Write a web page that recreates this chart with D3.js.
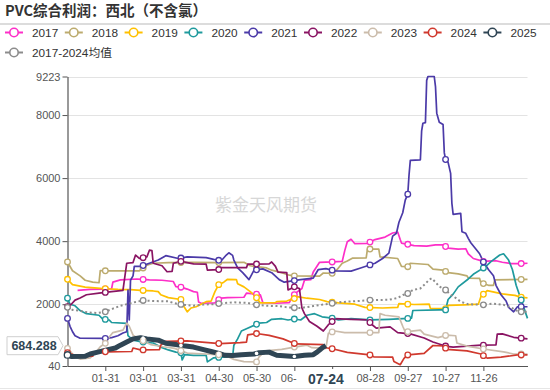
<!DOCTYPE html>
<html><head><meta charset="utf-8">
<script src="https://cdn.jsdelivr.net/npm/d3@7"></script>
<style>body{margin:0;background:#fff;} svg{display:block;}</style>
</head><body>
<svg id="c" width="550" height="390"></svg>
<script>
// ---------- data ----------
const title = "PVC综合利润：西北（不含氯）";
const watermark = "紫金天风期货";
const seriesNames = ["2017","2018","2019","2020","2021","2022","2023","2024","2025","2017-2024均值"];
const yTicks = [40, 2000, 4000, 6000, 8000, 9223];
const yMin = 40, yMax = 9223;
const pointerIndex = 205;          // 07-24
const pointerValue = 684.288;
// categories: every day of a (leap) year, "MM-DD"
const categories = d3.timeDay.range(new Date(2024,0,1), new Date(2025,0,1)).map(d3.timeFormat("%m-%d"));
const xLabelDays = [30,60,90,120,150,180,210,240,270,300,330];
// each series: [day-of-year index, value]
const s2017 = [[8,2440],[18,2470],[28,2480],[35,2490],[36,2700],[42,2770],[55,2800],[65,2770],[75,2760],[84,2720],[86,2560],[90,2540],[95,2480],[100,2400],[103,2380],[104,2070],[106,2030],[117,2040],[119,2120],[122,2190],[127,2210],[140,2220],[142,2350],[150,2320],[153,2300],[155,2050],[165,2030],[176,2050],[178,2200],[181,2350],[186,2500],[188,2760],[193,2780],[195,3020],[200,3330],[210,3340],[218,3360],[220,3700],[222,3980],[225,4060],[228,3920],[238,3930],[244,4050],[252,4130],[258,4260],[262,4290],[264,4050],[265,3940],[270,3900],[275,3860],[285,3840],[292,3880],[298,3880],[302,3780],[310,3750],[316,3760],[318,3600],[322,3450],[330,3360],[340,3380],[345,3330],[352,3290],[360,3290],[365,3300]];
const s2018 = [[0,3340],[4,3060],[10,2900],[14,2760],[20,2700],[25,2680],[26,3070],[30,3060],[57,3060],[60,3150],[63,3240],[68,3300],[80,3320],[100,3330],[120,3320],[140,3330],[145,3220],[150,3190],[158,3150],[162,3080],[170,3000],[176,2920],[180,2900],[200,2890],[203,2990],[210,2980],[214,3100],[218,3300],[222,3370],[226,3460],[237,3470],[238,3750],[247,3750],[248,3500],[262,3450],[265,3200],[270,3190],[272,3300],[286,3260],[290,3110],[298,3080],[302,3000],[310,2960],[317,2900],[318,2830],[327,2820],[328,2680],[334,2600],[338,2600],[339,2770],[365,2790]];
const s2019 = [[0,2790],[4,2620],[14,2540],[24,2510],[30,2490],[40,2470],[50,2460],[58,2440],[68,2420],[72,2400],[74,2300],[80,2210],[90,2150],[92,1950],[95,1760],[98,1880],[102,1920],[106,2000],[110,2080],[114,2100],[117,2400],[120,2620],[124,2700],[127,2790],[134,2780],[135,2650],[140,2550],[145,2400],[149,2260],[153,2040],[165,2050],[166,2080],[174,2100],[176,2130],[180,2180],[182,2240],[190,2190],[200,2150],[206,2080],[215,2040],[228,2000],[236,1900],[250,1880],[262,1900],[263,2020],[275,1990],[287,2000],[288,1860],[300,1860],[302,1960],[315,1980],[326,2000],[328,2240],[333,2430],[345,2330],[355,2280],[360,2220],[365,2200]];
const s2020 = [[0,2190],[2,2000],[6,1950],[10,1800],[15,1700],[25,1650],[28,1530],[33,1500],[35,1420],[47,1390],[48,1000],[52,860],[60,800],[68,770],[74,640],[80,550],[86,480],[90,460],[91,230],[93,400],[100,380],[110,380],[111,170],[116,300],[122,320],[131,330],[132,700],[135,900],[138,1150],[142,1220],[152,1400],[158,1420],[162,1520],[170,1540],[175,1500],[180,1530],[185,1500],[190,1650],[196,1700],[202,1600],[210,1560],[215,1500],[225,1540],[240,1500],[255,1520],[270,1550],[273,1560],[274,1800],[295,1820],[300,1820],[302,2150],[306,2320],[310,2550],[318,2800],[322,2950],[332,3200],[336,3350],[343,3560],[346,3600],[350,3400],[353,3100],[356,2600],[359,2250],[362,1900],[365,1550]];
const s2021 = [[0,1550],[2,1300],[4,1126],[6,1000],[10,920],[30,917],[35,940],[40,1000],[44,1085],[47,1126],[48,2450],[49,1500],[50,2760],[52,2900],[53,3200],[58,3200],[65,3300],[72,3400],[78,3540],[88,3450],[95,3500],[110,3480],[116,3420],[122,3380],[126,3560],[128,3630],[131,3550],[132,3400],[135,3150],[139,3000],[144,2780],[148,3080],[155,3120],[162,3000],[168,2780],[172,2700],[185,2780],[195,2830],[199,3100],[205,3130],[212,3060],[225,3050],[232,3140],[244,3300],[250,3450],[255,3620],[258,4160],[261,4250],[263,4600],[266,4900],[268,5300],[270,5490],[271,6100],[272,6560],[280,6580],[281,7500],[282,7740],[284,7760],[285,9100],[286,9223],[291,9223],[292,8900],[293,8060],[295,7770],[298,7700],[299,6800],[300,6590],[302,6500],[304,6150],[305,5200],[306,4850],[312,4880],[313,4300],[316,4250],[318,4090],[320,3950],[324,3750],[327,3600],[330,3340],[334,3100],[338,2900],[340,2600],[344,2300],[348,2100],[350,1900],[354,1760],[357,1920],[365,1920]];
const s2022 = [[0,1920],[3,2000],[6,2130],[10,2200],[15,2300],[25,2350],[35,2400],[44,2440],[47,3300],[52,3320],[54,3560],[57,3450],[63,3500],[65,3714],[67,3700],[68,3300],[75,3220],[79,3030],[83,3040],[84,3300],[90,3360],[100,3280],[110,3270],[111,3080],[120,3100],[121,3160],[142,3160],[143,3270],[160,3280],[162,3340],[165,3200],[167,3020],[174,3000],[175,2450],[180,2550],[184,2500],[186,1880],[188,1700],[192,1450],[198,1300],[203,1150],[207,1350],[210,1450],[212,1540],[225,1520],[238,1500],[242,1340],[245,1240],[256,1280],[262,1100],[272,1060],[283,930],[290,800],[301,660],[306,640],[328,700],[340,710],[341,1050],[345,1060],[354,950],[365,900]];
const s2023 = [[0,600],[3,470],[6,330],[10,260],[18,300],[22,450],[26,650],[30,760],[33,950],[36,1100],[44,1180],[47,1400],[49,1300],[52,1020],[57,900],[62,800],[66,720],[76,650],[85,600],[95,450],[110,420],[125,380],[132,250],[140,180],[150,170],[152,330],[157,520],[170,570],[180,640],[190,700],[194,620],[205,600],[207,1080],[212,1150],[220,1100],[247,1100],[248,1700],[252,1650],[263,1600],[264,1500],[266,1300],[268,1120],[280,1180],[283,1050],[294,940],[301,1020],[308,1000],[309,770],[317,670],[330,580],[346,490],[354,420],[365,420]];
const s2024 = [[0,460],[6,380],[10,340],[20,350],[21,480],[32,490],[51,500],[52,610],[58,550],[73,560],[74,700],[78,820],[95,840],[121,750],[137,780],[142,800],[143,1030],[150,1070],[160,1010],[171,900],[181,740],[203,720],[205,620],[211,580],[222,470],[240,390],[243,330],[258,320],[259,180],[264,80],[267,280],[270,390],[283,440],[290,690],[298,680],[301,570],[317,520],[328,420],[333,290],[344,320],[357,390],[365,390]];
const s2025 = [[0,390],[3,340],[14,350],[18,420],[24,480],[32,560],[38,610],[42,700],[47,800],[52,900],[58,940],[63,900],[72,860],[78,760],[86,720],[92,680],[100,640],[108,560],[114,500],[120,440],[125,380],[131,370],[138,400],[148,420],[152,460],[160,480],[166,380],[180,340],[188,380],[195,400],[198,480],[201,580],[203,640],[205,684.288]];
const sAvg = [[0,1900],[4,1820],[10,1790],[16,1740],[24,1720],[30,1760],[36,1860],[42,1950],[48,2010],[54,2070],[60,2120],[70,2100],[80,2090],[85,2030],[92,1980],[100,1950],[108,1990],[116,2000],[122,2030],[132,2060],[143,2040],[150,1980],[158,1950],[168,1940],[175,1900],[185,1880],[195,1940],[203,1990],[210,2030],[218,2070],[230,2100],[240,2130],[255,2140],[262,2200],[266,2290],[270,2340],[274,2450],[280,2500],[284,2650],[287,2780],[289,2820],[292,2700],[295,2560],[300,2450],[304,2300],[308,2200],[312,2080],[318,2000],[330,1980],[338,2020],[346,1980],[352,1900],[356,1800],[360,1760],[365,1760]];
const seriesData = [s2017,s2018,s2019,s2020,s2021,s2022,s2023,s2024,s2025,sAvg];

// ---------- styles ----------
const colors = ["#fd2fc8","#bcab6e","#ffc000","#1f9a9d","#4b3aa8","#8a1463","#cbbcab","#d0392e","#2f4554","#8c8c8c"];
const FONT = "'Liberation Sans','Noto Sans CJK SC',sans-serif";
const L = 67.5, R = 527.5, T = 76.5, B = 366;

const svg = d3.select("#c");
const x = d3.scalePoint().domain(categories).range([L, R]);
const y = d3.scaleLinear().domain([yMin, yMax]).range([B, T]);
const px = x(categories[pointerIndex]);

// title
svg.append("text").attr("x",5).attr("y",16).text(title)
  .attr("font-family","'Noto Sans CJK SC',sans-serif").attr("font-weight","bold")
  .attr("font-size",14.5).attr("fill","#333");
svg.append("line").attr("x1",0).attr("x2",550).attr("y1",24).attr("y2",24)
  .attr("stroke","#dcdcdc").attr("stroke-width",2);
svg.append("line").attr("x1",0).attr("x2",550).attr("y1",388.5).attr("y2",388.5)
  .attr("stroke","#e6e6e6").attr("stroke-width",1);

// legend
seriesNames.forEach((name,i)=>{
  const row = i < 9 ? 0 : 1;
  const col = i < 9 ? i : 0;
  const lx = 5 + col*59.8, ly = row ? 52.5 : 32.5;
  const g = svg.append("g");
  g.append("line").attr("x1",lx).attr("x2",lx+18).attr("y1",ly).attr("y2",ly)
    .attr("stroke",colors[i]).attr("stroke-width",2);
  g.append("circle").attr("cx",lx+9).attr("cy",ly).attr("r",4.2)
    .attr("fill","#fff").attr("stroke",colors[i]).attr("stroke-width",1.6);
  g.append("text").attr("x",lx+27).attr("y",ly+4.2).text(name)
    .attr("font-family",FONT).attr("font-size",11.8).attr("fill","#333");
});

// grid
svg.append("g").selectAll("line").data(yTicks.filter(v=>v!==yMin)).join("line")
  .attr("x1",L).attr("x2",R).attr("y1",d=>Math.round(y(d))+0.5).attr("y2",d=>Math.round(y(d))+0.5)
  .attr("stroke","#e3e3e3").attr("stroke-width",1);

// watermark
svg.append("text").attr("x",266).attr("y",211).attr("text-anchor","middle").text(watermark)
  .attr("font-family","'Noto Sans CJK SC',sans-serif").attr("font-size",17)
  .attr("fill","#bdbdbd").attr("opacity",0.6);

// axes
const yAxis = svg.append("g").attr("transform",`translate(${L},0)`)
  .call(d3.axisLeft(y).tickValues(yTicks).tickSize(5).tickSizeOuter(0).tickFormat(d3.format("d")));
// labels hidden where the axis-pointer label covers them
const coveredLabel = c => Math.abs(x(c) - px) < 20;
const xAxis = svg.append("g").attr("transform",`translate(0,${B})`)
  .call(d3.axisBottom(x).tickValues(xLabelDays.map(i=>categories[i])).tickSize(5).tickSizeOuter(0)
    .tickFormat(c => coveredLabel(c) ? "" : c));
[yAxis,xAxis].forEach(a=>{
  a.select(".domain").attr("stroke","#555").attr("stroke-width",1.2);
  a.selectAll(".tick line").attr("stroke","#555");
  a.selectAll(".tick text").attr("font-family",FONT).attr("font-size",11).attr("fill","#555");
});
yAxis.selectAll(".tick text").attr("x",-7);
xAxis.selectAll(".tick text").attr("y",8);
// the label just left of the pointer is cut by the pointer box: keep its visible start
xAxis.selectAll(".tick text").filter(c => x(c) < px && px - x(c) < 40)
  .attr("text-anchor","start").attr("dx",-14).text(c => c.slice(0,3));

// lines
const line = d3.line().x(d=>x(categories[d[0]])).y(d=>y(d[1]));
const plot = svg.append("g");
seriesData.forEach((data,i)=>{
  const isAvg = i===9, is2025 = i===8;
  plot.append("path").datum(data).attr("d",line).attr("fill","none")
    .attr("stroke",colors[i]).attr("stroke-width",is2025?5:(isAvg?2:1.7))
    .attr("stroke-linejoin","round")
    .attr("stroke-dasharray",isAvg?"2,2.6":null);
});
// markers every 30 days
seriesData.forEach((data,i)=>{
  const is2025 = i===8;
  const onLine = d3.scaleLinear().domain(data.map(d=>d[0])).range(data.map(d=>d[1]));
  const first = data[0][0], last = data[data.length-1][0];
  const days = d3.range(0,366,30).filter(d=>d>=first && d<=last);
  plot.append("g").selectAll("circle").data(days).join("circle")
    .attr("cx",d=>x(categories[d])).attr("cy",d=>y(onLine(d)))
    .attr("r",is2025?(d=>d===0?3.2:1.8):2.8)
    .attr("fill","#fff")
    .attr("stroke",is2025?(d=>d===0?colors[i]:"none"):colors[i])
    .attr("stroke-width",1.3);
});

// axis pointer labels
const py = y(pointerValue);
svg.append("path").attr("d",`M7,${py-9}H58L63,${py}L58,${py+9}H7Z`)
  .attr("fill","#fff").attr("stroke","#cfcfcf").attr("stroke-width",1);
svg.append("text").attr("x",34).attr("y",py+4.5).attr("text-anchor","middle")
  .text(d3.format(".3f")(pointerValue))
  .attr("font-family",FONT).attr("font-weight","bold").attr("font-size",12.5).attr("fill","#2f4554");
svg.append("rect").attr("x",px-24).attr("y",369).attr("width",50).attr("height",19).attr("fill","#fff");
svg.append("text").attr("x",px).attr("y",383.5).attr("text-anchor","middle").text(categories[pointerIndex])
  .attr("font-family",FONT).attr("font-weight","bold").attr("font-size",14).attr("fill","#2f4554");
</script>
</body></html>
